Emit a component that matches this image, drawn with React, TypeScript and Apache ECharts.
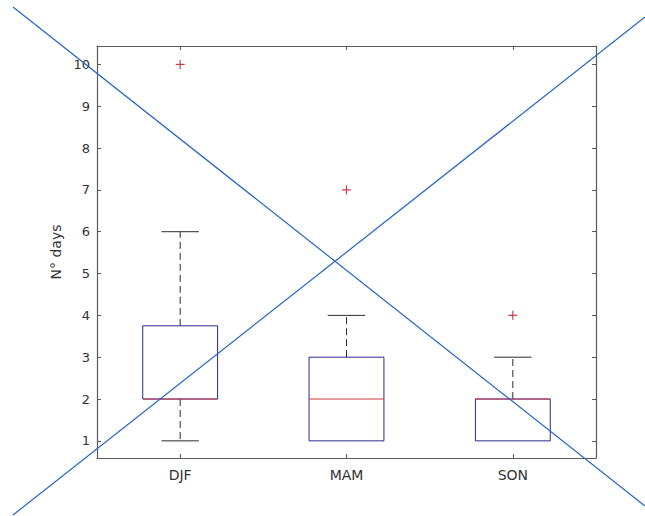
import React, { useEffect, useRef } from "react";
import * as echarts from "echarts";

const categories = ["DJF", "MAM", "SON"];
const lowerWhisker = [1, 1, 1];
const q1 = [2, 1, 1];
const median = [2, 2, 2];
const q3 = [3.75, 3, 2];
const upperWhisker = [6, 4, 3];
const outlierCategory = [0, 1, 2];
const outlierValues = [10, 7, 4];
const yTicks = [1, 2, 3, 4, 5, 6, 7, 8, 9, 10];

const FONT = "DejaVu Sans";
const BOX_COLOR = "#28288f";
const MEDIAN_COLOR = "#cc3a48";
const WHISKER_COLOR = "#2a2a2a";
const FRAME_COLOR = "#5a5a5a";
const CROSS_COLOR = "#2563c4";

export default function App() {
  const ref = useRef<HTMLDivElement>(null);

  useEffect(() => {
    if (!ref.current) return;
    const chart = echarts.init(ref.current, undefined, { renderer: "svg" });

    const boxData = categories.map((_, i) => [
      i,
      lowerWhisker[i],
      q1[i],
      median[i],
      q3[i],
      upperWhisker[i],
    ]);
    const outlierData = outlierCategory.map((c, i) => [c, outlierValues[i]]);

    const renderBox = (params: any, api: any) => {
      const idx = api.value(0);
      const lo = api.coord([idx, api.value(1)]);
      const b1 = api.coord([idx, api.value(2)]);
      const md = api.coord([idx, api.value(3)]);
      const b3 = api.coord([idx, api.value(4)]);
      const hi = api.coord([idx, api.value(5)]);
      const bandW = api.size([1, 0])[0];
      const boxW = bandW * 0.45;
      const capW = boxW * 0.5;
      const cx = lo[0];
      const children: any[] = [];
      const dashed = { stroke: WHISKER_COLOR, lineWidth: 1, lineDash: [7, 4], fill: null };
      const solid = { stroke: WHISKER_COLOR, lineWidth: 1, fill: null };
      if (hi[1] < b3[1] - 0.5) {
        children.push({ type: "line", shape: { x1: cx, y1: b3[1], x2: cx, y2: hi[1] }, style: dashed });
        children.push({ type: "line", shape: { x1: cx - capW / 2, y1: hi[1], x2: cx + capW / 2, y2: hi[1] }, style: solid });
      }
      if (lo[1] > b1[1] + 0.5) {
        children.push({ type: "line", shape: { x1: cx, y1: b1[1], x2: cx, y2: lo[1] }, style: dashed });
        children.push({ type: "line", shape: { x1: cx - capW / 2, y1: lo[1], x2: cx + capW / 2, y2: lo[1] }, style: solid });
      }
      children.push({
        type: "rect",
        shape: { x: cx - boxW / 2, y: b3[1], width: boxW, height: b1[1] - b3[1] },
        style: { stroke: BOX_COLOR, lineWidth: 1, fill: "none" },
      });
      children.push({
        type: "line",
        shape: { x1: cx - boxW / 2, y1: md[1], x2: cx + boxW / 2, y2: md[1] },
        style: { stroke: MEDIAN_COLOR, lineWidth: 1, fill: null },
      });
      return { type: "group", children };
    };

    const renderOutlier = (params: any, api: any) => {
      const p = api.coord([api.value(0), api.value(1)]);
      const s = 4.5;
      const st = { stroke: MEDIAN_COLOR, lineWidth: 1.2, fill: null };
      return {
        type: "group",
        children: [
          { type: "line", shape: { x1: p[0] - s, y1: p[1], x2: p[0] + s, y2: p[1] }, style: st },
          { type: "line", shape: { x1: p[0], y1: p[1] - s, x2: p[0], y2: p[1] + s }, style: st },
        ],
      };
    };

    const axisLine = { show: true, lineStyle: { color: FRAME_COLOR, width: 1.2 } };
    const tick = { show: true, inside: true, length: 4, lineStyle: { color: FRAME_COLOR } };

    chart.setOption({
      animation: false,
      backgroundColor: "#ffffff",
      grid: { left: 97, right: 49, top: 46, bottom: 58, containLabel: false },
      xAxis: [
        {
          type: "category",
          data: categories,
          position: "bottom",
          boundaryGap: true,
          axisLine,
          axisTick: { ...tick, alignWithLabel: true },
          axisLabel: { fontSize: 14, color: "#333333", margin: 10, fontFamily: FONT },
          splitLine: { show: false },
        },
        {
          type: "category",
          data: categories,
          position: "top",
          boundaryGap: true,
          axisLine,
          axisTick: { ...tick, alignWithLabel: true },
          axisLabel: { show: false },
          splitLine: { show: false },
        },
      ],
      yAxis: [
        {
          type: "value",
          min: 0.59,
          max: 10.44,
          position: "left",
          name: "N° days",
          nameLocation: "middle",
          nameGap: 31,
          nameRotate: 90,
          nameTextStyle: { fontSize: 14, color: "#333333", fontFamily: FONT },
          axisLine,
          axisTick: { ...tick, customValues: yTicks },
          axisLabel: { customValues: yTicks, fontSize: 13, color: "#333333", margin: 7, fontFamily: FONT },
          splitLine: { show: false },
        },
        {
          type: "value",
          min: 0.59,
          max: 10.44,
          position: "right",
          axisLine,
          axisTick: { ...tick, customValues: yTicks },
          axisLabel: { show: false },
          splitLine: { show: false },
        },
      ],
      series: [
        {
          type: "custom",
          name: "box",
          xAxisIndex: 0,
          yAxisIndex: 0,
          renderItem: renderBox,
          data: boxData,
          encode: { x: 0, y: [1, 2, 3, 4, 5] },
          silent: true,
        },
        {
          type: "custom",
          name: "outliers",
          xAxisIndex: 0,
          yAxisIndex: 0,
          renderItem: renderOutlier,
          data: outlierData,
          encode: { x: 0, y: 1 },
          silent: true,
        },
      ],
      graphic: [
        {
          type: "line",
          z: 100,
          shape: { x1: 13, y1: 515, x2: 645, y2: 17 },
          style: { stroke: CROSS_COLOR, lineWidth: 1.2 },
          silent: true,
        },
        {
          type: "line",
          z: 100,
          shape: { x1: 13, y1: 7, x2: 645, y2: 506 },
          style: { stroke: CROSS_COLOR, lineWidth: 1.2 },
          silent: true,
        },
      ],
    });

    return () => chart.dispose();
  }, []);

  return (
    <div
      ref={ref}
      style={{ position: "absolute", left: 0, top: 0, width: 645, height: 516, background: "#fff" }}
    />
  );
}
